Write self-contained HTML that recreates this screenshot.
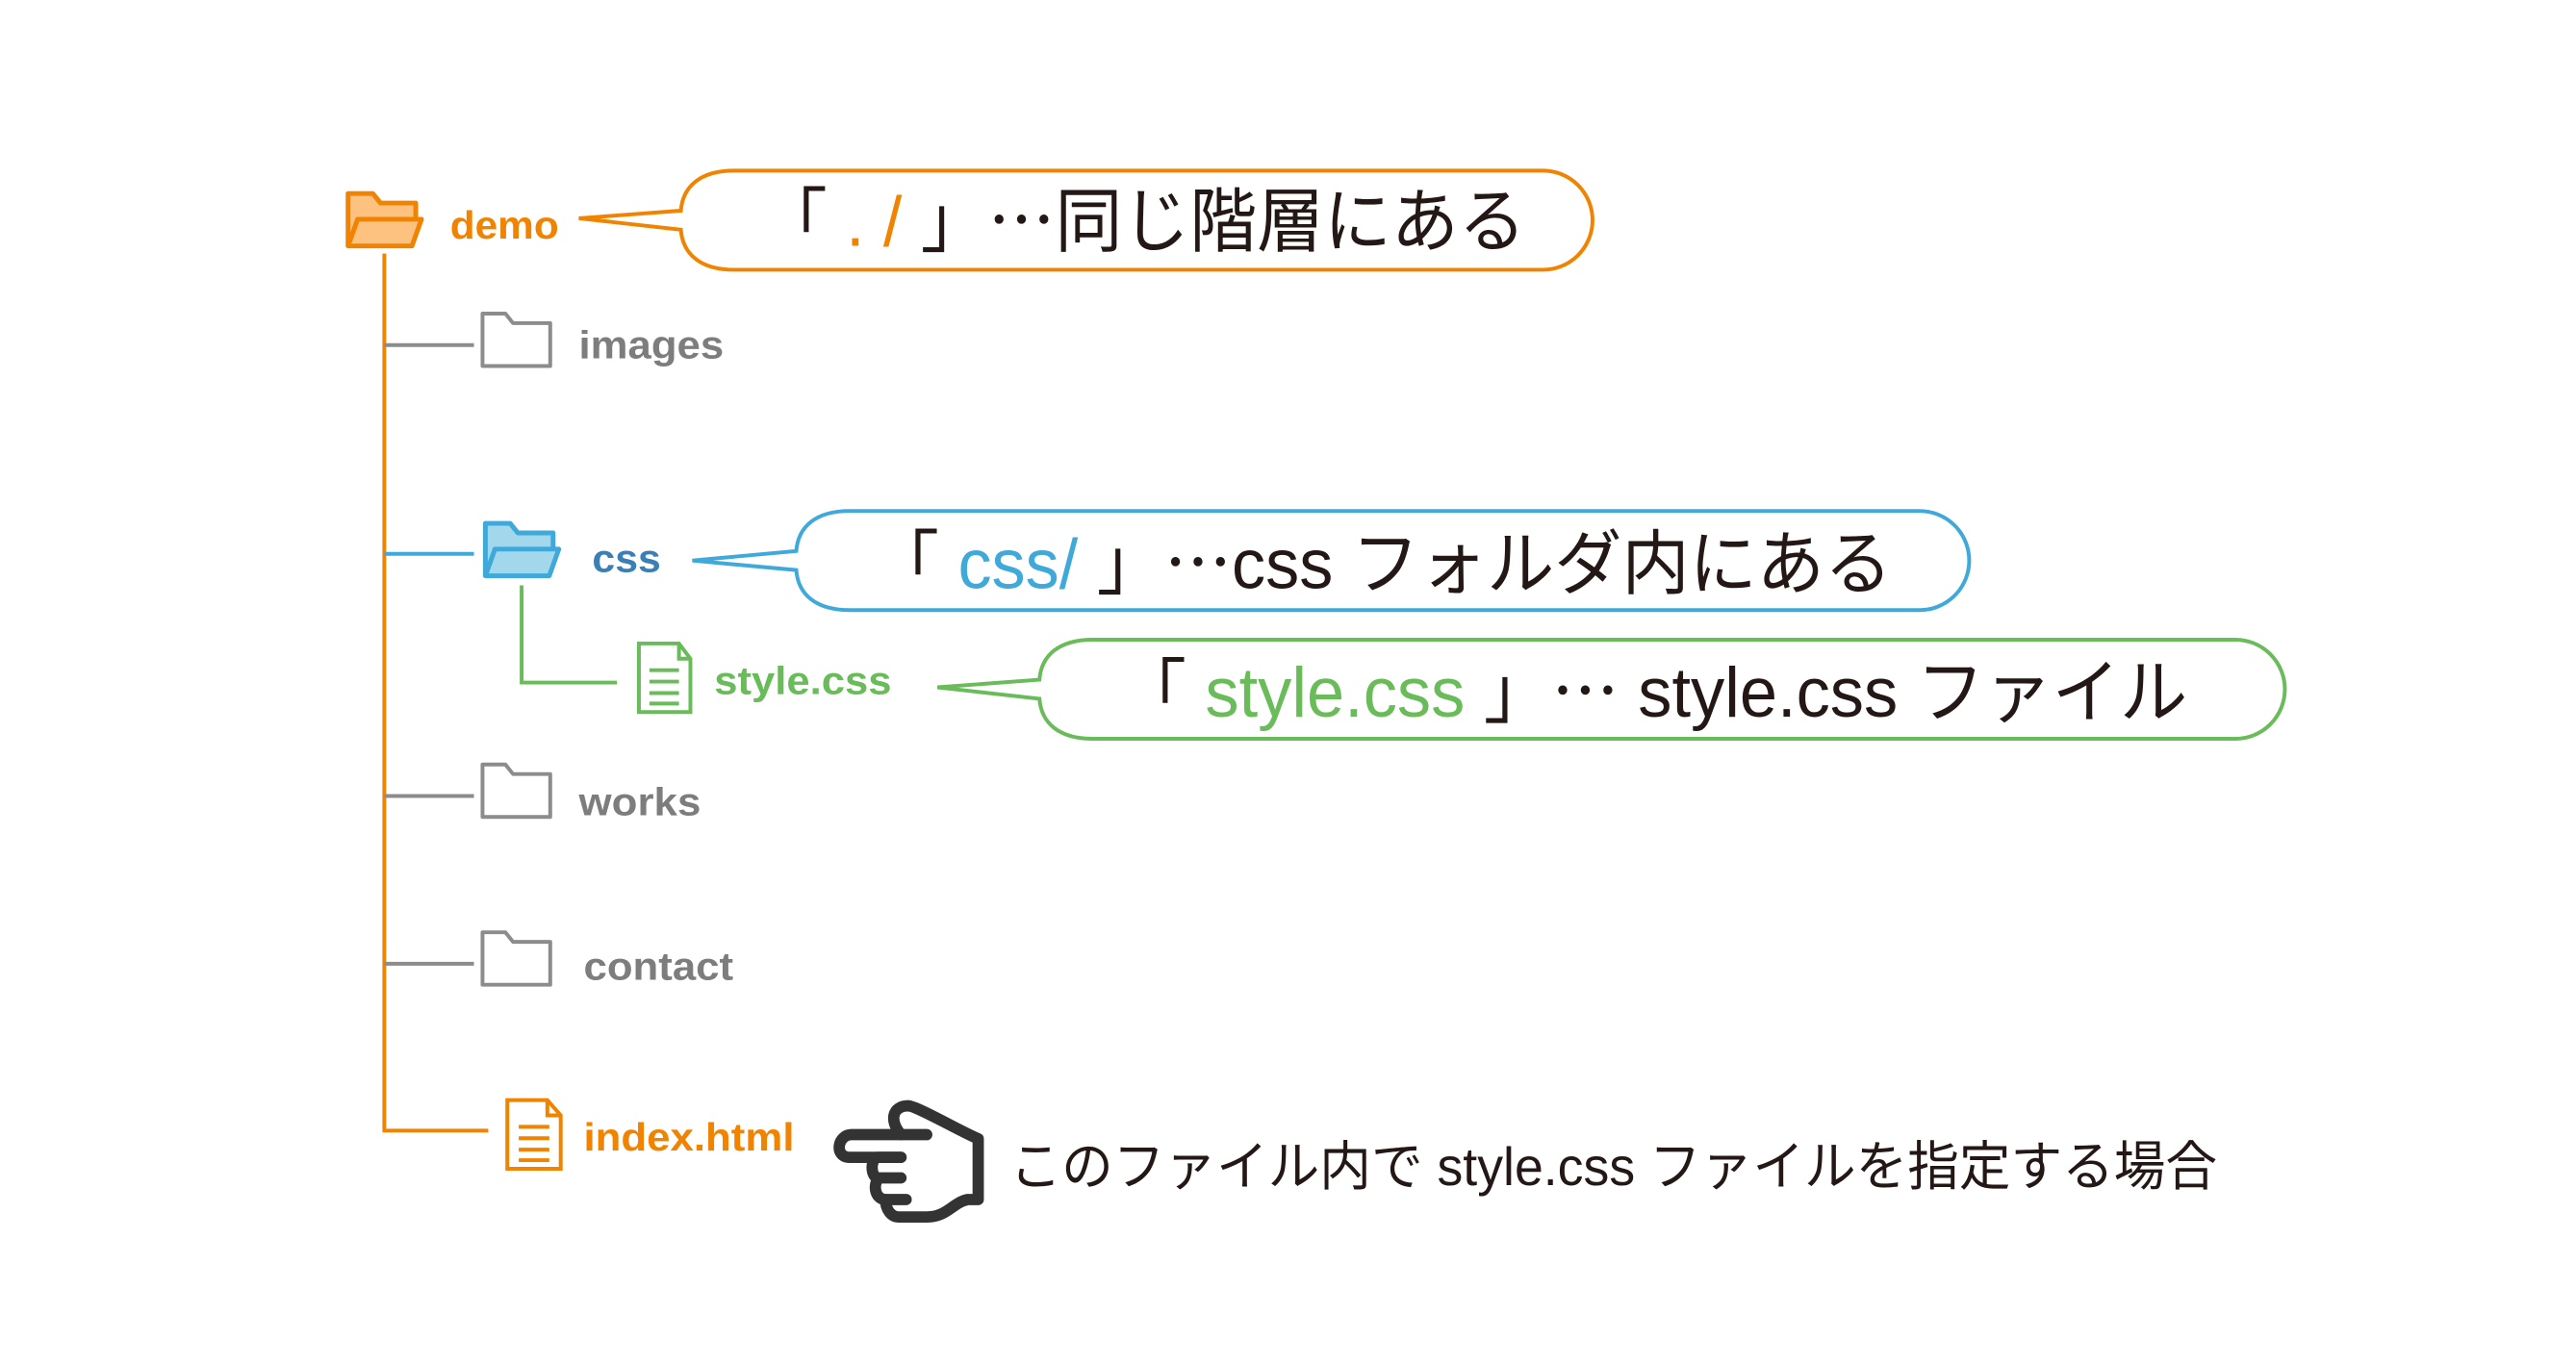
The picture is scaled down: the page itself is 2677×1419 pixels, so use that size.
<!DOCTYPE html>
<html><head><meta charset="utf-8"><style>
html,body{margin:0;padding:0;background:#fff;}
svg{display:block;}
text{font-family:"Liberation Sans","Noto Sans CJK JP",sans-serif;}
.lb{font-weight:bold;font-size:41px;}
.bt{font-size:74px;fill:#231815;}
.cj{font-family:"Noto Sans CJK JP",sans-serif;}
</style></head><body>
<svg width="2677" height="1419" viewBox="0 0 2677 1419" xmlns="http://www.w3.org/2000/svg">
<g transform="scale(0.991)">
<line x1="403" y1="266" x2="403" y2="1188" stroke="#f08300" stroke-width="4"/>
<line x1="403" y1="1186" x2="512" y2="1186" stroke="#f08300" stroke-width="4"/>
<line x1="403" y1="362" x2="497" y2="362" stroke="#8c8c8c" stroke-width="4"/>
<line x1="403" y1="581" x2="497" y2="581" stroke="#3fa9d9" stroke-width="4"/>
<line x1="403" y1="835" x2="497" y2="835" stroke="#8c8c8c" stroke-width="4"/>
<line x1="403" y1="1011" x2="497" y2="1011" stroke="#8c8c8c" stroke-width="4"/>
<polyline points="547,614 547,716 647,716" fill="none" stroke="#6abb5a" stroke-width="4"/>

<g transform="translate(363,201)" stroke="#f08300" stroke-width="5" stroke-linejoin="round" fill="#fdc180">
<path d="M2,57 V2 H28 L36,12 H73 V30"/>
<path d="M2,57 L12,29 H79 L69,57 Z"/>
</g>
<g transform="translate(507,547)" stroke="#3fa9d9" stroke-width="5" stroke-linejoin="round" fill="#a3d8ec">
<path d="M2,57 V2 H28 L36,12 H73 V30"/>
<path d="M2,57 L12,29 H79 L69,57 Z"/>
</g>
<g stroke="#8c8c8c" stroke-width="4" stroke-linejoin="round" fill="#fff">
<path transform="translate(504,327)" d="M2,57 V2 H26 L34,12 H73 V57 Z"/>
<path transform="translate(504,800)" d="M2,57 V2 H26 L34,12 H73 V57 Z"/>
<path transform="translate(504,976)" d="M2,57 V2 H26 L34,12 H73 V57 Z"/>
</g>
<g transform="translate(668,673)" stroke="#6abb5a" stroke-width="4" fill="#fff">
<path d="M2,2 H44 L56,18 V74 H2 Z"/>
<path d="M44,2 V18 H56" fill="none"/>
<path d="M13,30 H44 M13,42 H44 M13,54 H44 M13,65 H44"/>
</g>
<g transform="translate(530,1152)" stroke="#f08300" stroke-width="4" fill="#fff">
<path d="M2,2 H44 L58,18 V74 H2 Z"/>
<path d="M44,2 V18 H58" fill="none"/>
<path d="M14,30 H46 M14,42 H46 M14,54 H46 M14,65 H46"/>
</g>

<text class="lb" x="472" y="250" fill="#f08300" textLength="114" lengthAdjust="spacingAndGlyphs">demo</text>
<text class="lb" x="607" y="376" fill="#7d7d7d" textLength="152" lengthAdjust="spacingAndGlyphs">images</text>
<text class="lb" x="621" y="600" fill="#3a7fb5" textLength="72" lengthAdjust="spacingAndGlyphs">css</text>
<text class="lb" x="749" y="728" fill="#6abb5a" textLength="186" lengthAdjust="spacingAndGlyphs">style.css</text>
<text class="lb" x="607" y="855" fill="#7d7d7d" textLength="128" lengthAdjust="spacingAndGlyphs">works</text>
<text class="lb" x="612" y="1028" fill="#7d7d7d" textLength="157" lengthAdjust="spacingAndGlyphs">contact</text>
<text class="lb" x="612" y="1207" fill="#f08300" textLength="221" lengthAdjust="spacingAndGlyphs">index.html</text>

<path d="M714,221 C716,195 735,179 770,179 H1618 A52,52 0 0 1 1618,283 H770 C735,283 716,267 714,241 L607,229 Z" fill="#fff" stroke="#f08300" stroke-width="4"/>
<path d="M835,578 C837,552 856,536 891,536 H2013 A52,52 0 0 1 2013,640 H891 C856,640 837,624 835,598 L726,588 Z" fill="#fff" stroke="#3fa9d9" stroke-width="4"/>
<path d="M1090,713 C1092,687 1111,671 1146,671 H2344 A52,52 0 0 1 2344,775 H1146 C1111,775 1092,759 1090,733 L983,721 Z" fill="#fff" stroke="#6abb5a" stroke-width="4"/>

<text class="bt" x="797" y="258" textLength="803" lengthAdjust="spacingAndGlyphs"><tspan class="cj">「</tspan> <tspan fill="#f08300">. /</tspan> <tspan class="cj">」…</tspan>同じ階層にある</text>
<text class="bt" x="914" y="617" textLength="1070" lengthAdjust="spacingAndGlyphs"><tspan class="cj">「</tspan> <tspan fill="#3fa9d9">css/</tspan> <tspan class="cj">」…</tspan>css フォルダ内にある</text>
<text class="bt" x="1173" y="752" textLength="1121" lengthAdjust="spacingAndGlyphs"><tspan class="cj">「</tspan> <tspan fill="#6abb5a">style.css</tspan> <tspan class="cj">」…</tspan> style.css ファイル</text>

<g transform="translate(880,1160) scale(1.08) translate(-880,-1146)" fill="none" stroke="#333" stroke-width="11" stroke-linecap="round" stroke-linejoin="round">
<path d="M965,1174 H892 C878,1174 875,1196 890,1196 H940"/>
<path d="M940,1174 C928,1160 932,1146 947,1146 C955,1146 1000,1172 1015,1178 V1237 H1005 C990,1240 985,1254 965,1254 H938 C930,1254 925,1246 925,1237"/>
<path d="M940,1196 H918 C910,1196 910,1216 918,1216 H940"/>
<path d="M918,1216 C912,1225 916,1237 925,1237 H945"/>
</g>
<text x="1059" y="1243" font-size="56" fill="#231815" textLength="1266" lengthAdjust="spacingAndGlyphs">このファイル内で style.css ファイルを指定する場合</text>
</g>
</svg>
</body></html>
